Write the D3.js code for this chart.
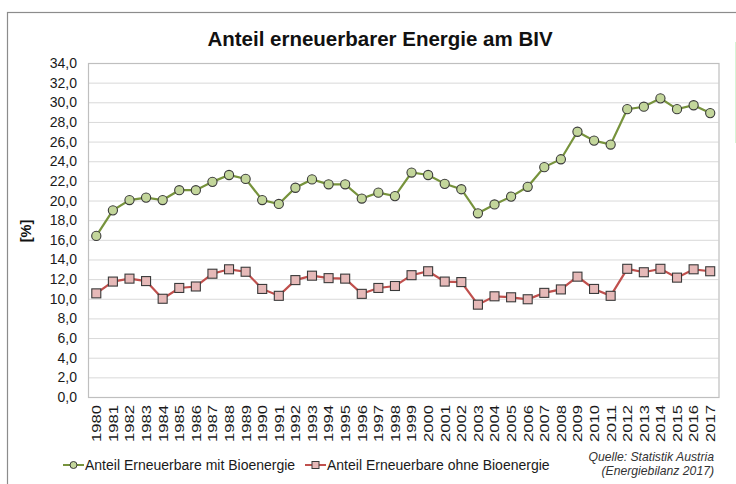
<!DOCTYPE html>
<html><head><meta charset="utf-8">
<script src="https://cdn.jsdelivr.net/npm/d3@7"></script>
<style>body{margin:0;background:#fff}svg{display:block;font-family:"Liberation Sans",Arial,sans-serif}</style>
</head><body>
<script>
const years = d3.range(1980, 2018).map(String);
const mitBio = [16.4,19.0,20.05,20.3,20.05,21.05,21.05,21.9,22.6,22.2,20.05,19.65,21.3,22.15,21.65,21.65,20.2,20.8,20.45,22.85,22.6,21.7,21.15,18.7,19.6,20.4,21.4,23.4,24.2,27.0,26.1,25.7,29.3,29.55,30.4,29.3,29.7,28.9];
const ohneBio = [10.55,11.75,12.05,11.8,10.0,11.1,11.25,12.55,13.0,12.75,11.0,10.3,11.9,12.35,12.1,12.05,10.5,11.1,11.3,12.4,12.8,11.75,11.7,9.4,10.25,10.15,9.95,10.6,10.95,12.25,11.0,10.3,13.05,12.7,13.05,12.15,13.0,12.8];
const yTicks = d3.range(0, 34.01, 2);
const title = "Anteil erneuerbarer Energie am BIV";
const seriesNames = ["Anteil Erneuerbare mit Bioenergie", "Anteil Erneuerbare ohne Bioenergie"];

const W = 736, H = 484;
const L = 88, R = 718.5, T = 63, B = 397;
const svg = d3.select("body").append("svg").attr("width", W).attr("height", H);

// outer frame
svg.append("rect").attr("x", 7.5).attr("y", 12.5).attr("width", 760).attr("height", 500)
  .attr("fill", "none").attr("stroke", "#8c8c8c").attr("stroke-width", 1.2);
svg.append("line").attr("x1", 735.5).attr("x2", 735.5).attr("y1", 42).attr("y2", 143)
  .attr("stroke", "#d6f5d6").attr("stroke-width", 1);

const x = d3.scaleBand().domain(years).range([L, R]);
const y = d3.scaleLinear().domain([0, 34]).range([B, T]);

// gridlines
svg.append("g").selectAll("line").data(yTicks.filter(d => d > 0 && d < 34)).join("line")
  .attr("x1", L).attr("x2", R).attr("y1", d => y(d) + 0.5).attr("y2", d => y(d) + 0.5)
  .attr("stroke", "#d9d9d9").attr("stroke-width", 1);

svg.append("rect").attr("x", L + 0.5).attr("y", T + 0.5).attr("width", R - L).attr("height", B - T)
  .attr("fill", "none").attr("stroke", "#bfbfbf").attr("stroke-width", 1.2);

// y axis
const yAxis = svg.append("g").attr("transform", `translate(${L},0)`)
  .call(d3.axisLeft(y).tickValues(yTicks).tickSize(0).tickPadding(11)
    .tickFormat(d => d3.format(".1f")(d).replace(".", ",")));
yAxis.select(".domain").remove();
yAxis.selectAll("text").attr("font-size", 14).attr("fill", "#1a1a1a").attr("font-family", "Liberation Sans, Arial, sans-serif");

// x axis
const xAxis = svg.append("g").attr("transform", `translate(0,${B})`)
  .call(d3.axisBottom(x).tickSize(0).tickPadding(0));
xAxis.select(".domain").remove();
xAxis.selectAll("text").attr("font-size", 13.5).attr("fill", "#1a1a1a")
  .attr("font-family", "Liberation Sans, Arial, sans-serif")
  .attr("transform", "rotate(-90)").attr("text-anchor", "end")
  .attr("x", -8).attr("y", 0).attr("dy", "0.36em")
  .attr("textLength", 37).attr("lengthAdjust", "spacingAndGlyphs");

// title
svg.append("text").attr("x", 380).attr("y", 46).attr("text-anchor", "middle")
  .attr("font-size", 20.5).attr("font-weight", "bold").attr("fill", "#111").text(title);

// y label
svg.append("text").attr("transform", "translate(31,231) rotate(-90)").attr("text-anchor", "middle")
  .attr("font-size", 14.5).attr("font-weight", "bold").attr("fill", "#111").text("[%]");

const cx = d => x(d) + x.bandwidth() / 2;
const green = "#77933c", greenFill = "#c3d69b", red = "#c0504d", redFill = "#e6b9b8";

function drawSeries(vals, stroke, fill, shape) {
  const line = d3.line().x((d, i) => cx(years[i])).y(d => y(d));
  svg.append("path").datum(vals).attr("d", line).attr("fill", "none")
    .attr("stroke", stroke).attr("stroke-width", 2.2);
  const g = svg.append("g");
  if (shape === "circle") {
    g.selectAll("circle").data(vals).join("circle")
      .attr("cx", (d, i) => cx(years[i])).attr("cy", d => y(d)).attr("r", 4.6)
      .attr("fill", fill).attr("stroke", "#3a3a3a").attr("stroke-width", 1.1);
  } else {
    g.selectAll("rect").data(vals).join("rect")
      .attr("x", (d, i) => cx(years[i]) - 4.5).attr("y", d => y(d) - 4.5)
      .attr("width", 9).attr("height", 9)
      .attr("fill", fill).attr("stroke", "#3a3a3a").attr("stroke-width", 1.1);
  }
}
drawSeries(mitBio, green, greenFill, "circle");
drawSeries(ohneBio, red, redFill, "square");

// legend
const lg = svg.append("g").attr("font-size", 14).attr("fill", "#1a1a1a");
const ly = 465;
lg.append("line").attr("x1", 63).attr("x2", 84).attr("y1", ly).attr("y2", ly).attr("stroke", green).attr("stroke-width", 2);
lg.append("circle").attr("cx", 73.5).attr("cy", ly).attr("r", 3.5).attr("fill", greenFill).attr("stroke", "#3a3a3a").attr("stroke-width", 1);
lg.append("text").attr("x", 85).attr("y", ly).attr("dy", "0.36em").text(seriesNames[0]);
lg.append("line").attr("x1", 305).attr("x2", 326).attr("y1", ly).attr("y2", ly).attr("stroke", red).attr("stroke-width", 2);
lg.append("rect").attr("x", 312).attr("y", ly - 3.5).attr("width", 7).attr("height", 7).attr("fill", redFill).attr("stroke", "#3a3a3a").attr("stroke-width", 1);
lg.append("text").attr("x", 327).attr("y", ly).attr("dy", "0.36em").text(seriesNames[1]);

// source
const src = svg.append("g").attr("font-size", 12.2).attr("font-style", "italic").attr("fill", "#333").attr("text-anchor", "end");
src.append("text").attr("x", 714).attr("y", 461).text("Quelle: Statistik Austria");
src.append("text").attr("x", 714).attr("y", 475).text("(Energiebilanz 2017)");
</script>
</body></html>
